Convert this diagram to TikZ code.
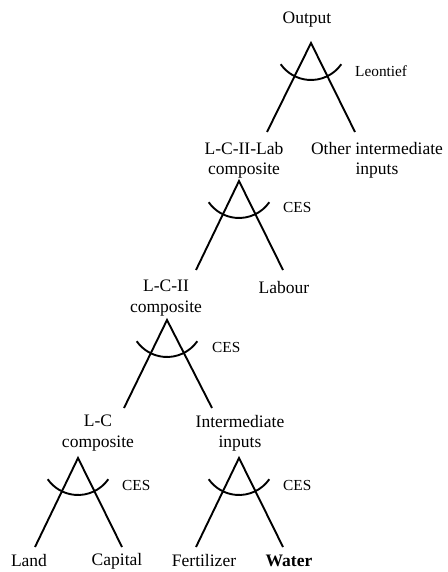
\documentclass[tikz,border=0pt]{standalone}
\usepackage{fontspec}
\setmainfont{Liberation Serif}
\tikzset{
	lbl/.style={align=center,font=\fontsize{12}{13.8}\selectfont},
	fn/.style={anchor=west,font=\fontsize{10.5}{12}\selectfont},
	leg/.style={line width=1.3pt},
}
\begin{document}
\begin{tikzpicture}[x=0.685pt,y=-0.685pt]
	\useasboundingbox (0,0) rectangle (447,572);
	% goods
	\node[lbl] (out) at (307,20) {Output};
	\node[lbl] (lcl) at (244,160) {L-C-II-Lab\\composite};
	\node[lbl] (oth) at (377,160) {Other intermediate\\inputs};
	\node[lbl] (lc2) at (166,298) {L-C-II\\composite};
	\node[lbl] (lab) at (284,288) {Labour};
	\node[lbl] (lc) at (98,433) {L-C\\composite};
	\node[lbl] (int) at (240,433) {Intermediate\\inputs};
	\node[lbl] (land) at (29,561) {Land};
	\node[lbl] (cap) at (117,561) {Capital};
	\node[lbl] (fert) at (204,561) {Fertilizer};
	\node[lbl] (wat) at (289,561) {\textbf{Water}};
	% nests
	\coordinate (a1) at (311,43);
	\coordinate (a1l) at (267,132);
	\coordinate (a1r) at (355,132);
	\draw[leg] (a1l) -- (a1) -- (a1r);
	\draw[leg] (a1) ++(35:37) arc[start angle=35,end angle=145,radius=37];
	\node[fn] (f1) at (350,71) {Leontief};
	\coordinate (a2) at (239,181);
	\coordinate (a2l) at (196,270);
	\coordinate (a2r) at (283,270);
	\draw[leg] (a2l) -- (a2) -- (a2r);
	\draw[leg] (a2) ++(35:37) arc[start angle=35,end angle=145,radius=37];
	\node[fn] (f2) at (278,208) {CES};
	\coordinate (a3) at (167,320);
	\coordinate (a3l) at (124,408);
	\coordinate (a3r) at (212,408);
	\draw[leg] (a3l) -- (a3) -- (a3r);
	\draw[leg] (a3) ++(35:37) arc[start angle=35,end angle=145,radius=37];
	\node[fn] (f3) at (207,347) {CES};
	\coordinate (a4) at (78,458);
	\coordinate (a4l) at (35,547);
	\coordinate (a4r) at (122,547);
	\draw[leg] (a4l) -- (a4) -- (a4r);
	\draw[leg] (a4) ++(35:37) arc[start angle=35,end angle=145,radius=37];
	\node[fn] (f4) at (117,485) {CES};
	\coordinate (a5) at (239,458);
	\coordinate (a5l) at (196,547);
	\coordinate (a5r) at (283,547);
	\draw[leg] (a5l) -- (a5) -- (a5r);
	\draw[leg] (a5) ++(35:37) arc[start angle=35,end angle=145,radius=37];
	\node[fn] (f5) at (278,485) {CES};
\end{tikzpicture}
\end{document}
